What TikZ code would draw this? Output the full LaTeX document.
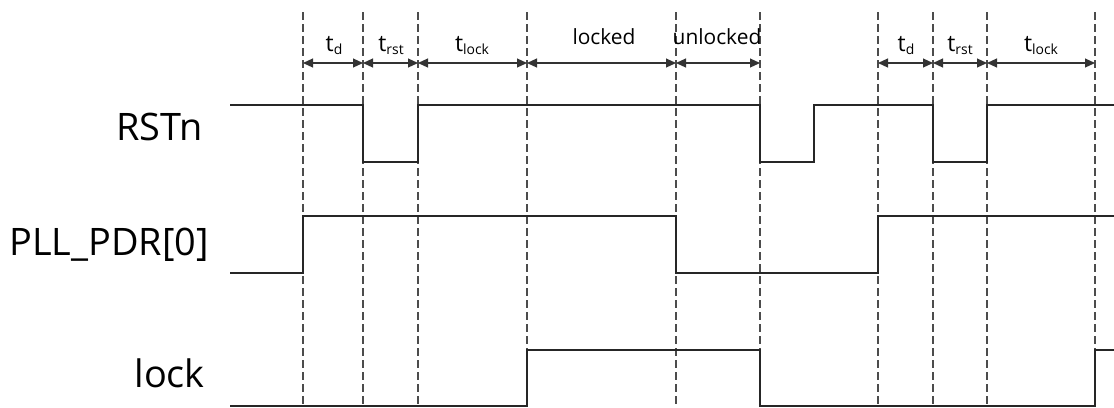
\documentclass[tikz,border=0pt]{standalone}
\usepackage{fontspec}
\setmainfont{Open Sans}
\usetikzlibrary{arrows.meta}
\tikzset{
  guide/.style={gray!60!black, line width=1.3bp, dash pattern=on 8bp off 4bp},
  wave/.style={black!85, line width=1.2bp},
  span/.style={{Triangle[length=10bp,width=9bp]}-{Triangle[length=10bp,width=9bp]}, black!80, line width=1.1bp},
  signame/.style={anchor=base east, inner sep=0pt, font=\fontsize{38}{40}\selectfont},
  spanname/.style={anchor=base, inner sep=0pt, font=\fontsize{21}{22}\selectfont}
}
\newcommand{\tsub}[1]{{\fontsize{23}{24}\selectfont t}\raisebox{-0.3ex}{\fontsize{14}{14}\selectfont #1}}
\begin{document}
\begin{tikzpicture}[x=1bp, y=-1bp]
            \useasboundingbox (0,0) rectangle (1114,407);
            \foreach \x in {303,363,418,527,676,760,878,933,987,1095}
                \draw[guide] (\x,12) -- (\x,407);
            \node[signame] (RSTn) at (203,140) {RSTn};
            \node[signame] (PDR) at (209,255) {PLL\_PDR[0]};
            \node[signame] (lock) at (205,387) {lock};
            \draw[wave] (230,105) -- (363,105) -- (363,162) -- (418,162) -- (418,105) -- (760,105) -- (760,162) -- (814,162) -- (814,105) -- (933,105) -- (933,162) -- (987,162) -- (987,105) -- (1114,105);
            \draw[wave] (230,273) -- (303,273) -- (303,216) -- (676,216) -- (676,273) -- (878,273) -- (878,216) -- (1114,216);
            \draw[wave] (230,406) -- (527,406) -- (527,350) -- (760,350) -- (760,406) -- (1095,406) -- (1095,350) -- (1114,350);
            \draw[span] (303,63) -- (363,63);
            \draw[span] (363,63) -- (418,63);
            \draw[span] (418,63) -- (527,63);
            \draw[span] (527,63) -- (676,63);
            \draw[span] (676,63) -- (760,63);
            \draw[span] (878,63) -- (933,63);
            \draw[span] (933,63) -- (987,63);
            \draw[span] (987,63) -- (1095,63);
            \node[spanname] (td1) at (334,51) {\tsub{d}};
            \node[spanname] (trst1) at (391,51) {\tsub{rst}};
            \node[spanname] (tlock1) at (472,51) {\tsub{lock}};
            \node[spanname] (locked) at (604,44) {locked};
            \node[spanname] (unlocked) at (717,44) {unlocked};
            \node[spanname] (td2) at (906,51) {\tsub{d}};
            \node[spanname] (trst2) at (960,51) {\tsub{rst}};
            \node[spanname] (tlock2) at (1041,51) {\tsub{lock}};
\end{tikzpicture}
\end{document}
